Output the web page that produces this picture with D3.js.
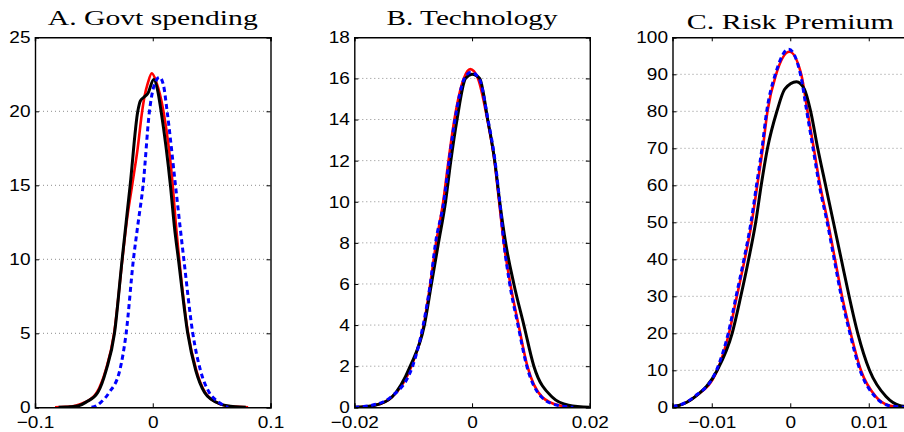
<!DOCTYPE html>
<html>
<head>
<meta charset="utf-8">
<script src="https://cdn.jsdelivr.net/npm/d3@7"></script>
<style>
  body { margin: 0; background: #fff; }
  svg { display: block; }
</style>
</head>
<body>
<div id="chart"></div>
<script>
// panel titles and ticks
const titles = ['A. Govt spending', 'B. Technology', 'C. Risk Premium'];
const xDomains = [[-0.1, 0.1], [-0.02, 0.02], [-0.015, 0.015]];
const yDomains = [[0, 25], [0, 18], [0, 100]];
const xTicks = [[-0.1, 0, 0.1], [-0.02, 0, 0.02], [-0.01, 0, 0.01]];
const yTicks = [[0, 5, 10, 15, 20, 25], [0, 2, 4, 6, 8, 10, 12, 14, 16, 18], [0, 10, 20, 30, 40, 50, 60, 70, 80, 90, 100]];

// A. Govt spending densities [x, density]
const govtRed = [[-0.083,0],[-0.074,0.03],[-0.065,0.12],[-0.057,0.36],[-0.0475,1.0],[-0.04,2.5],[-0.0328,5.0],[-0.0258,10.0],[-0.0222,12.5],[-0.0175,15.0],[-0.0128,17.5],[-0.009,20.0],[-0.007,21.0],[-0.0042,21.9],[-0.0008,22.57],[0.0029,22.0],[0.0091,20.0],[0.017,15.0],[0.0195,12.5],[0.0225,10.0],[0.030,5.0],[0.037,2.5],[0.0445,1.0],[0.055,0.3],[0.066,0.06],[0.081,0]];
const govtBlack = [[-0.08,0],[-0.07,0.03],[-0.063,0.1],[-0.0566,0.35],[-0.0467,1.0],[-0.0396,2.5],[-0.0325,5.0],[-0.026,10.0],[-0.0226,12.5],[-0.0192,15.0],[-0.0127,20.0],[-0.0105,20.7],[-0.0075,20.95],[-0.0042,21.2],[0.0009,22.15],[0.0042,21.4],[0.0071,20.0],[0.015,15.0],[0.0184,12.2],[0.0218,10.0],[0.0297,5.0],[0.0365,2.5],[0.044,1.0],[0.05,0.52],[0.0565,0.25],[0.063,0.1],[0.07,0.03],[0.079,0]];
const govtBlue = [[-0.052,0],[-0.048,0.1],[-0.0439,0.35],[-0.037,1.0],[-0.028,2.5],[-0.0226,5.0],[-0.0164,10.0],[-0.0127,12.3],[-0.0082,15.0],[-0.0028,20.0],[0.001,21.7],[0.0057,22.3],[0.009,21.8],[0.0122,20.0],[0.0193,15.0],[0.0235,12.0],[0.0264,10.0],[0.034,5.0],[0.0405,2.5],[0.048,1.0],[0.056,0.35],[0.064,0]];

// B. Technology
const techRed = [[-0.02,0],[-0.0165,0.1],[-0.0136,0.5],[-0.0103,2.0],[-0.0082,4.0],[-0.0071,6.0],[-0.0061,8.0],[-0.0049,10.0],[-0.004,12.0],[-0.003,14.0],[-0.0014,16.0],[-0.0003,16.45],[0.001,16.0],[0.0026,14.0],[0.0038,12.0],[0.0046,10.0],[0.0054,8.0],[0.0065,6.0],[0.0079,4.0],[0.0094,2.0],[0.0119,0.5],[0.0147,0.1],[0.0175,0]];
const techBlack = [[-0.02,0],[-0.0165,0.1],[-0.0136,0.5],[-0.0105,2.0],[-0.0081,4.0],[-0.0069,6.0],[-0.0057,8.0],[-0.0045,10.0],[-0.0036,12.0],[-0.00255,14.0],[-0.0011,16.0],[0.0,16.2],[0.0013,16.0],[0.00266,14.0],[0.00385,12.0],[0.0047,10.0],[0.0057,8.0],[0.0071,6.0],[0.0088,4.0],[0.0105,2.0],[0.0136,0.5],[0.0164,0.1],[0.02,0]];
const techBlue = [[-0.02,0],[-0.017,0.1],[-0.0138,0.5],[-0.0101,2.0],[-0.0083,4.0],[-0.0071,6.0],[-0.0062,8.0],[-0.0048,10.0],[-0.0039,12.0],[-0.0029,14.0],[-0.0013,16.0],[-0.0002,16.3],[0.0012,16.0],[0.0027,14.0],[0.0039,12.0],[0.0047,10.0],[0.0054,8.0],[0.0064,6.0],[0.0078,4.0],[0.0093,2.0],[0.0118,0.5],[0.0145,0.1],[0.0172,0]];

// C. Risk Premium
const riskRed = [[-0.015,0.2],[-0.0142,0.5],[-0.0121,2.9],[-0.0093,10],[-0.0078,20],[-0.0068,30],[-0.0058,40],[-0.0049,50],[-0.0042,60],[-0.0035,70],[-0.0029,80],[-0.0018,90],[-0.0001,96.1],[0.0014,90],[0.0022,80],[0.003,70],[0.0038,60],[0.0048,50],[0.0057,40],[0.0066,30],[0.0077,20],[0.009,10],[0.0109,2.9],[0.0126,0.5],[0.014,0.1],[0.015,0]];
const riskBlack = [[-0.015,0.2],[-0.0142,0.5],[-0.0121,2.9],[-0.0093,10],[-0.0074,20],[-0.0063,30],[-0.0053,40],[-0.0044,50],[-0.0037,60],[-0.0029,70],[-0.0017,80],[-0.0007,86],[0.0008,88],[0.0018,86],[0.0026,80],[0.0035,70],[0.0045,60],[0.0055,50],[0.0065,40],[0.0075,30],[0.0086,20],[0.0101,10],[0.0122,2.9],[0.0139,0.5],[0.015,0.2]];
const riskBlue = [[-0.015,0.25],[-0.0143,0.5],[-0.0122,2.9],[-0.0094,10],[-0.0079,20],[-0.0069,30],[-0.0059,40],[-0.005,50],[-0.0043,60],[-0.0036,70],[-0.003,80],[-0.0019,90],[-0.0002,96.8],[0.0013,90],[0.0021,80],[0.0029,70],[0.0037,60],[0.0047,50],[0.0056,40],[0.0065,30],[0.0076,20],[0.0089,10],[0.0108,2.9],[0.0125,0.5],[0.014,0.1],[0.015,0]];

const panels = [
  { red: govtRed, black: govtBlack, blue: govtBlue },
  { red: techRed, black: techBlack, blue: techBlue },
  { red: riskRed, black: riskBlack, blue: riskBlue },
];

const width = 904;
const height = 432;
const plotLefts = [35, 354.3, 672.5];
const plotW = 235.5;
const plotTop = 37.3;
const plotBottom = 407.3;
const titleWidths = [210, 171, 207];
const titleBase = [25, 25, 28.5];
const tickLen = 4;
const sans = '"Liberation Sans", Arial, Helvetica, sans-serif';
const serif = '"Liberation Serif", "Times New Roman", serif';

const fmt = v => (v === 0 ? '0' : String(v).replace('-', '\u2212'));

const svg = d3.select('#chart').append('svg')
  .attr('width', width)
  .attr('height', height)
  .attr('viewBox', `0 0 ${width} ${height}`);

panels.forEach((p, i) => {
  const x0 = plotLefts[i];
  const x = d3.scaleLinear().domain(xDomains[i]).range([x0, x0 + plotW]);
  const y = d3.scaleLinear().domain(yDomains[i]).range([plotBottom, plotTop]);
  const g = svg.append('g');

  // dotted horizontal grid
  g.append('g').selectAll('line')
    .data(yTicks[i].filter(t => t !== yDomains[i][0] && t !== yDomains[i][1]))
    .enter().append('line')
    .attr('x1', x0).attr('x2', x0 + plotW)
    .attr('y1', d => y(d)).attr('y2', d => y(d))
    .attr('stroke', '#8c8c8c')
    .attr('stroke-width', 1)
    .attr('stroke-dasharray', '1,3');

  const clipId = 'clip' + i;
  svg.append('clipPath').attr('id', clipId)
    .append('rect')
    .attr('x', x0).attr('y', plotTop - 5)
    .attr('width', plotW).attr('height', plotBottom - plotTop + 5);

  const line = d3.line()
    .x(d => x(d[0]))
    .y(d => y(d[1]))
    .curve(d3.curveMonotoneX);

  const curves = g.append('g').attr('clip-path', `url(#${clipId})`);
  curves.append('path')
    .attr('d', line(p.red))
    .attr('fill', 'none')
    .attr('stroke', '#ff0000')
    .attr('stroke-width', 2.6)
    .attr('stroke-linejoin', 'round');
  curves.append('path')
    .attr('d', line(p.black))
    .attr('fill', 'none')
    .attr('stroke', '#000000')
    .attr('stroke-width', 3)
    .attr('stroke-linejoin', 'round');
  curves.append('path')
    .attr('d', line(p.blue))
    .attr('fill', 'none')
    .attr('stroke', '#0000ff')
    .attr('stroke-width', 3)
    .attr('stroke-dasharray', '5,3.5');

  // axes, ticks inward on all four sides
  const yLeft = d3.axisLeft(y).tickValues(yTicks[i]).tickSize(-tickLen).tickPadding(4).tickFormat(fmt);
  const yRight = d3.axisRight(y).tickValues(yTicks[i]).tickSize(-tickLen).tickFormat('');
  const xBottom = d3.axisBottom(x).tickValues(xTicks[i]).tickSize(-tickLen).tickPadding(9).tickFormat(fmt);
  const xTop = d3.axisTop(x).tickValues(xTicks[i]).tickSize(-tickLen).tickFormat('');

  const axes = [
    g.append('g').attr('transform', `translate(${x0},0)`).call(yLeft),
    g.append('g').attr('transform', `translate(${x0 + plotW},0)`).call(yRight),
    g.append('g').attr('transform', `translate(0,${plotBottom})`).call(xBottom),
    g.append('g').attr('transform', `translate(0,${plotTop})`).call(xTop),
  ];
  axes.forEach(a => {
    a.select('.domain').attr('stroke', '#000').attr('stroke-width', 1.4);
    a.selectAll('.tick line').attr('stroke', '#000').attr('stroke-width', 1);
    a.selectAll('text')
      .attr('fill', '#000')
      .attr('font-family', sans)
      .attr('font-size', 17)
      .attr('transform', 'scale(1.12,1)');
  });

  g.append('text')
    .attr('x', x0 + plotW / 2)
    .attr('y', titleBase[i])
    .attr('text-anchor', 'middle')
    .attr('font-family', serif)
    .attr('font-size', 21)
    .attr('textLength', titleWidths[i])
    .attr('lengthAdjust', 'spacingAndGlyphs')
    .text(titles[i]);
});
</script>
</body>
</html>
